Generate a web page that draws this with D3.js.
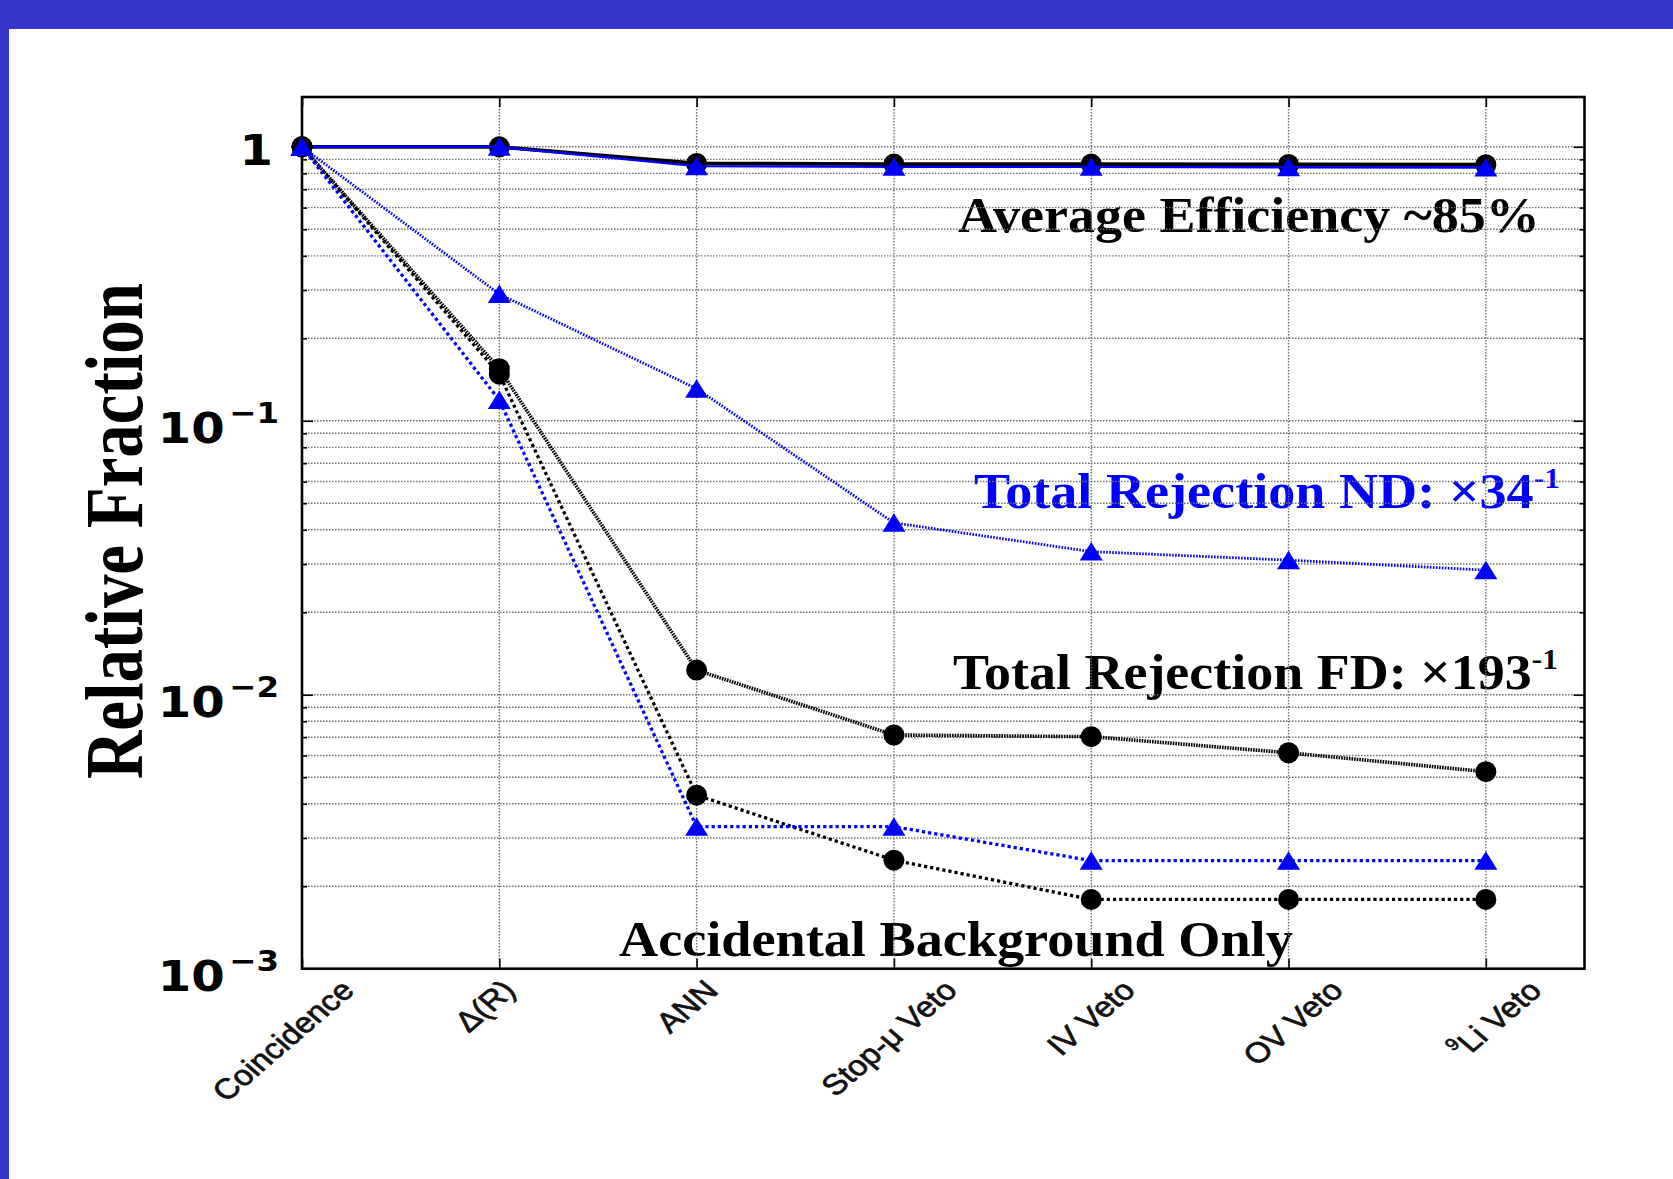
<!DOCTYPE html>
<html>
<head>
<meta charset="utf-8">
<script src="https://cdn.jsdelivr.net/npm/d3@7"></script>
<style>
  body { margin: 0; background: #fff; }
  svg { display: block; }
</style>
</head>
<body>
<svg id="chart" width="1673" height="1179"></svg>
<script>
// Selection steps along the x axis
const categories = ["Coincidence", "Δ(R)", "ANN", "Stop-μ Veto", "IV Veto", "OV Veto", "⁹Li Veto"];

// Signal efficiency (solid lines)
const effFD = [1, 1, 0.87, 0.865, 0.865, 0.862, 0.86];
const effND = [1, 1, 0.85, 0.845, 0.845, 0.842, 0.84];

// Background rejection, all backgrounds (fine dotted lines)
const rejFD = [1, 0.155, 0.0123, 0.00713, 0.00703, 0.00614, 0.00524];
const rejND = [1, 0.29, 0.131, 0.0424, 0.0333, 0.031, 0.0285];

// Accidental background only (coarse dotted lines)
const accFD = [1, 0.148, 0.0043, 0.00249, 0.00179, 0.00179, 0.00179];
const accND = [1, 0.119, 0.0033, 0.0033, 0.00248, 0.00248, 0.00248];

// Major y ticks and their labels (mantissa, exponent)
const yTicks = [1, 0.1, 0.01, 0.001];
const yTickLabels = [["1", ""], ["10", "−1"], ["10", "−2"], ["10", "−3"]];

const W = 1673, H = 1179;
const BLUE = "#0000ff";
const svg = d3.select("#chart");

// slide background and frame
svg.append("rect").attr("width", W).attr("height", H).attr("fill", "#fff");
svg.append("rect").attr("x", 0).attr("y", 0).attr("width", W).attr("height", 29).attr("fill", "#3434c8");
svg.append("rect").attr("x", 0).attr("y", 0).attr("width", 9).attr("height", H).attr("fill", "#3434c8");

const plot = { left: 302, right: 1584.5, top: 97, bottom: 968.7 };
const x = d3.scaleLinear().domain([0, categories.length - 0.5]).range([plot.left, plot.right]);
const y = d3.scaleLog().domain([1e-3, 1.52]).range([plot.bottom, plot.top]);
// the rotated category labels are spread slightly wider than the ticks
const xLabel = d3.scaleLinear().domain([0, categories.length - 1]).range([283, 1495]);

// helper: stretch a text horizontally so it spans [x0, x1], baseline at by
function fitText(t, x0, x1, by) {
  const b = t.node().getBBox();
  const sx = (x1 - x0) / b.width;
  t.attr("transform", `translate(${x0 - b.x * sx},${by}) scale(${sx},1)`);
}

// ---- annotations (drawn under the grid)
const ann = svg.append("g").attr("font-family", "Liberation Serif")
  .attr("font-weight", "bold").attr("font-size", 50);

fitText(ann.append("text").attr("fill", "#000").text("Average Efficiency ~85%"), 958, 1540, 232);

const tND = ann.append("text").attr("fill", BLUE);
tND.append("tspan").text("Total Rejection ND: ×34");
tND.append("tspan").attr("font-size", 29).attr("dy", -20).text("-1");
fitText(tND, 974, 1560, 508);

const tFD = ann.append("text").attr("fill", "#000");
tFD.append("tspan").text("Total Rejection FD: ×193");
tFD.append("tspan").attr("font-size", 29).attr("dy", -20).text("-1");
fitText(tFD, 953, 1558, 689);

fitText(ann.append("text").attr("fill", "#000").text("Accidental Background Only"), 619, 1293, 956);

// ---- grid
const gridVals = [];
[-3, -2, -1].forEach(d => { for (let k = 1; k <= 9; k++) gridVals.push(k * Math.pow(10, d)); });
gridVals.push(1);
const grid = svg.append("g").attr("stroke", "#707070").attr("stroke-width", 1.4)
  .attr("stroke-dasharray", "1.5,1.5").attr("fill", "none");
grid.selectAll("line.h").data(gridVals.filter(v => v > 1e-3 * 1.0001)).join("line")
  .attr("class", "h").attr("x1", plot.left).attr("x2", plot.right)
  .attr("y1", d => y(d)).attr("y2", d => y(d));
grid.selectAll("line.v").data(d3.range(1, categories.length)).join("line")
  .attr("class", "v").attr("y1", plot.top).attr("y2", plot.bottom)
  .attr("x1", d => x(d)).attr("x2", d => x(d));

// ---- axes ticks (inward)
const minorVals = [];
[-3, -2, -1].forEach(d => { for (let k = 2; k <= 9; k++) minorVals.push(k * Math.pow(10, d)); });
function styleAxis(g) {
  g.select(".domain").remove();
  g.selectAll(".tick line").attr("stroke", "#000").attr("stroke-width", 1.6);
}
svg.append("g").attr("transform", `translate(${plot.left},0)`)
  .call(d3.axisLeft(y).tickValues(yTicks).tickSize(-11).tickFormat("")).call(styleAxis);
svg.append("g").attr("transform", `translate(${plot.left},0)`)
  .call(d3.axisLeft(y).tickValues(minorVals).tickSize(-5).tickFormat("")).call(styleAxis);
svg.append("g").attr("transform", `translate(${plot.right},0)`)
  .call(d3.axisRight(y).tickValues(yTicks).tickSize(-11).tickFormat("")).call(styleAxis);
svg.append("g").attr("transform", `translate(${plot.right},0)`)
  .call(d3.axisRight(y).tickValues(minorVals).tickSize(-5).tickFormat("")).call(styleAxis);
svg.append("g").attr("transform", `translate(0,${plot.top})`)
  .call(d3.axisTop(x).tickValues(d3.range(categories.length)).tickSize(-10).tickFormat("")).call(styleAxis);
svg.append("g").attr("transform", `translate(0,${plot.bottom})`)
  .call(d3.axisBottom(x).tickValues(d3.range(categories.length)).tickSize(-10).tickFormat("")).call(styleAxis);

svg.append("rect").attr("x", plot.left).attr("y", plot.top)
  .attr("width", plot.right - plot.left).attr("height", plot.bottom - plot.top)
  .attr("fill", "none").attr("stroke", "#000").attr("stroke-width", 2.6);

// ---- y tick labels
const yl = svg.append("g").attr("font-family", "'DejaVu Sans',sans-serif").attr("font-weight", "bold")
  .attr("fill", "#000");
yTicks.forEach((v, i) => {
  const [m, e] = yTickLabels[i];
  const t = yl.append("text").attr("text-anchor", "end").attr("font-size", 43);
  t.append("tspan").text(m);
  if (e) t.append("tspan").attr("font-size", 29).attr("dy", -20).attr("dx", 4).text(e);
  const right = e ? 279 : 273;
  const base = y(v) + (e ? 22 : 18);
  t.attr("transform", `translate(${right},${base}) scale(1.12,1)`);
});

// ---- y axis title
const yt = svg.append("text").attr("font-family", "Liberation Serif")
  .attr("font-weight", "bold").attr("font-size", 60).attr("text-anchor", "middle").attr("fill", "#000")
  .text("Relative Fraction");
{
  const L = yt.node().getComputedTextLength();
  const f = 60 * 496 / L;
  yt.attr("font-size", f);
  const sx = 56 / (0.68 * f);
  yt.attr("transform", `translate(142,531) scale(${sx},1) rotate(-90)`);
}

// ---- x tick labels (rotated 45°)
const xFont = 28.5;
const xl = svg.append("g").attr("font-family", "'Liberation Sans',Arial,sans-serif")
  .attr("font-size", xFont).attr("fill", "#111").attr("stroke", "#111").attr("stroke-width", 0.7);
categories.forEach((c, i) => {
  const t = xl.append("text").attr("text-anchor", "middle").attr("dominant-baseline", "central");
  if (c.startsWith("⁹")) {
    t.append("tspan").attr("font-size", 17).attr("dy", -9).text("9");
    t.append("tspan").attr("dy", 9).text(c.slice(1));
  } else {
    t.text(c);
  }
  const L = t.node().getComputedTextLength();
  const h = 0.72 * xFont;
  const half = (L + h) * Math.SQRT1_2 / 2;
  t.attr("transform", `translate(${xLabel(i)},${978 + half}) scale(1.17,1) rotate(-45)`);
});

// ---- series
const line = d3.line().x((d, i) => x(i)).y(d => y(d));
const triPath = "M0,-9.5 L11.5,9 L-11.5,9 Z";
const series = [
  { data: effFD, color: "#000", width: 3.8, dash: null, marker: "circle" },
  { data: effND, color: BLUE, width: 2.4, dash: null, marker: "triangle" },
  { data: rejFD, color: "#000", width: 3.6, dash: "1.6,1", marker: "circle" },
  { data: rejND, color: BLUE, width: 2.8, dash: "1.6,1.4", marker: "triangle" },
  { data: accFD, color: "#000", width: 3.3, dash: "3.2,3", marker: "circle" },
  { data: accND, color: BLUE, width: 3.3, dash: "3.2,3", marker: "triangle" }
];
series.forEach(s => {
  const g = svg.append("g");
  g.append("path").datum(s.data).attr("d", line).attr("fill", "none")
    .attr("stroke", s.color).attr("stroke-width", s.width)
    .attr("stroke-dasharray", s.dash);
  if (s.marker === "circle") {
    g.selectAll("circle").data(s.data).join("circle")
      .attr("cx", (d, i) => x(i)).attr("cy", d => y(d)).attr("r", 10.5).attr("fill", s.color);
  } else {
    g.selectAll("path.m").data(s.data).join("path").attr("class", "m")
      .attr("d", triPath).attr("fill", s.color)
      .attr("transform", (d, i) => `translate(${x(i)},${y(d)})`);
  }
});
</script>
</body>
</html>
